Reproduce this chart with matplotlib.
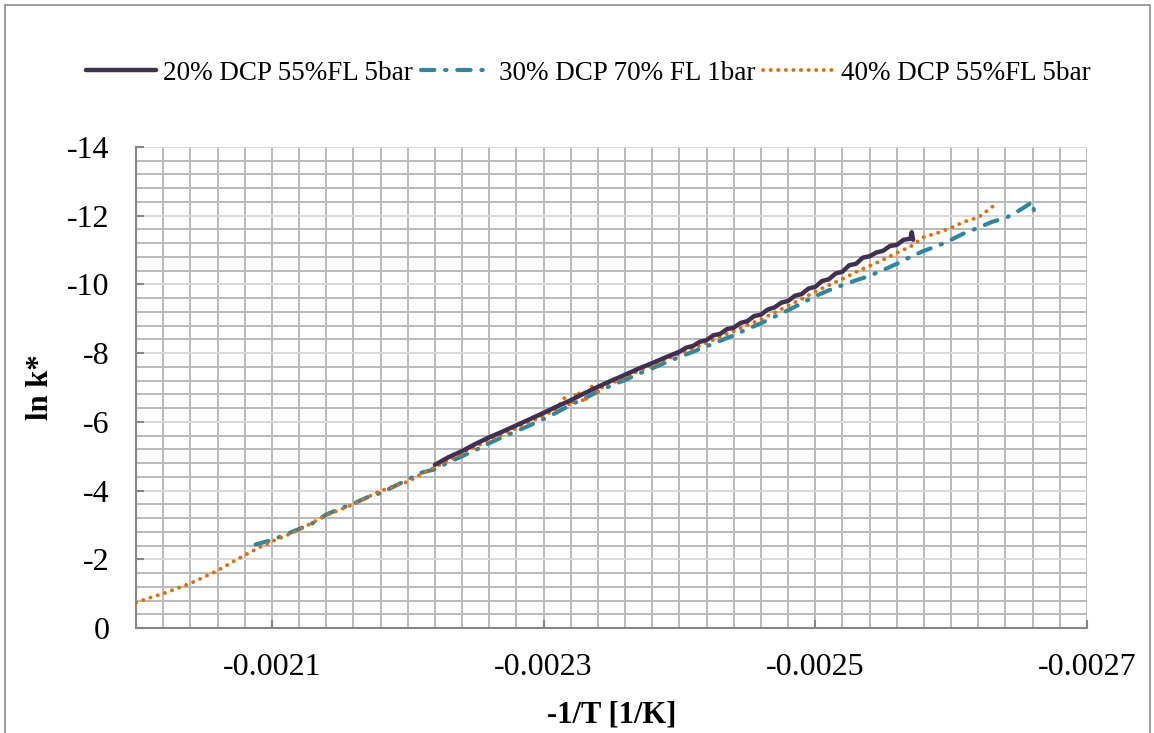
import matplotlib
matplotlib.use("Agg")
import matplotlib.pyplot as plt
from matplotlib.ticker import FixedLocator, FixedFormatter
from matplotlib.patches import Rectangle
import numpy as np

plt.rcParams['font.family'] = ['Liberation Serif', 'DejaVu Serif']
plt.rcParams['axes.unicode_minus'] = False

# ---------------- data ----------------
labels = ["20% DCP 55%FL 5bar", "30% DCP 70% FL 1bar", "40% DCP 55%FL 5bar"]

x_20 = [-0.002220, -0.002230, -0.002240, -0.002250, -0.002260, -0.002270, -0.002280,
        -0.002290, -0.002300, -0.002310, -0.002320, -0.002330, -0.002340, -0.002350,
        -0.002360, -0.002370, -0.002380, -0.002390, -0.002400, -0.002405, -0.002410,
        -0.002415, -0.002420, -0.002425, -0.002430, -0.002435, -0.002440, -0.002445,
        -0.002450, -0.002455, -0.002460, -0.002465, -0.002470, -0.002475, -0.002480,
        -0.002485, -0.002490, -0.002495, -0.002500, -0.002505, -0.002510, -0.002515,
        -0.002520, -0.002525, -0.002530, -0.002535, -0.002540, -0.002545, -0.002550,
        -0.002555, -0.002560, -0.002565, -0.002570, -0.002571, -0.002572]
y_20 = [-4.75, -4.97, -5.15, -5.36, -5.55, -5.72, -5.90,
        -6.08, -6.26, -6.45, -6.63, -6.83, -7.02, -7.20,
        -7.37, -7.55, -7.71, -7.88, -8.04, -8.16, -8.21,
        -8.33, -8.38, -8.52, -8.56, -8.70, -8.74, -8.88,
        -8.93, -9.08, -9.12, -9.27, -9.33, -9.47, -9.52,
        -9.67, -9.72, -9.88, -9.93, -10.10, -10.15, -10.32,
        -10.37, -10.56, -10.60, -10.78, -10.82, -10.93, -10.98,
        -11.12, -11.15, -11.30, -11.33, -11.52, -11.30]

x_30 = [-0.002088, -0.002100, -0.002110, -0.002120, -0.002130, -0.002140, -0.002150,
        -0.002160, -0.002170, -0.002180, -0.002190, -0.002200, -0.002210, -0.002220,
        -0.002230, -0.002240, -0.002250, -0.002260, -0.002270, -0.002280, -0.002290,
        -0.002300, -0.002310, -0.002320, -0.002330, -0.002340, -0.002350, -0.002360,
        -0.002370, -0.002380, -0.002390, -0.002400, -0.002410, -0.002420, -0.002430,
        -0.002440, -0.002450, -0.002460, -0.002470, -0.002480, -0.002490, -0.002500,
        -0.002510, -0.002520, -0.002530, -0.002540, -0.002550, -0.002560, -0.002570,
        -0.002580, -0.002590, -0.002600, -0.002610, -0.002620, -0.002630, -0.002640,
        -0.002650, -0.002660, -0.002661]
y_30 = [-2.43, -2.56, -2.72, -2.88, -3.05, -3.30, -3.47,
        -3.62, -3.80, -3.93, -4.12, -4.32, -4.52, -4.62,
        -4.82, -5.00, -5.18, -5.38, -5.56, -5.73, -5.90,
        -6.08, -6.28, -6.50, -6.68, -6.88, -7.06, -7.22,
        -7.40, -7.56, -7.73, -7.89, -8.04, -8.20, -8.36,
        -8.52, -8.70, -8.87, -9.06, -9.25, -9.45, -9.66,
        -9.83, -9.98, -10.12, -10.25, -10.42, -10.60, -10.80,
        -10.98, -11.12, -11.30, -11.50, -11.65, -11.82, -11.93,
        -12.15, -12.40, -12.12]

x_40 = [-0.002000, -0.002010, -0.002020, -0.002030, -0.002040, -0.002050, -0.002060,
        -0.002070, -0.002080, -0.002090, -0.002100, -0.002110, -0.002120, -0.002130,
        -0.002140, -0.002150, -0.002160, -0.002170, -0.002180, -0.002190, -0.002200,
        -0.002210, -0.002220, -0.002230, -0.002240, -0.002250, -0.002260, -0.002270,
        -0.002280, -0.002290, -0.002300, -0.002310, -0.002315, -0.002320, -0.002325,
        -0.002330, -0.002335, -0.002340, -0.002345, -0.002350, -0.002360, -0.002370,
        -0.002380, -0.002390, -0.002400, -0.002410, -0.002420, -0.002430, -0.002440,
        -0.002450, -0.002460, -0.002470, -0.002480, -0.002490, -0.002500, -0.002510,
        -0.002520, -0.002530, -0.002540, -0.002550, -0.002560, -0.002570, -0.002580,
        -0.002590, -0.002600, -0.002610, -0.002620, -0.002630, -0.002633]
y_40 = [-0.74, -0.88, -1.00, -1.15, -1.30, -1.48, -1.67,
        -1.90, -2.12, -2.33, -2.52, -2.68, -2.86, -3.07,
        -3.28, -3.44, -3.60, -3.80, -3.99, -4.13, -4.26,
        -4.48, -4.68, -4.88, -5.07, -5.28, -5.47, -5.64,
        -5.82, -6.00, -6.18, -6.38, -6.70, -6.45, -6.90,
        -6.55, -7.05, -6.85, -7.10, -7.12, -7.30, -7.48,
        -7.64, -7.82, -7.98, -8.14, -8.30, -8.48, -8.64,
        -8.82, -8.98, -9.18, -9.38, -9.58, -9.79, -9.98,
        -10.16, -10.36, -10.54, -10.72, -10.92, -11.10, -11.38,
        -11.50, -11.65, -11.83, -11.95, -12.25, -12.36]

x_ticks = [-0.0021, -0.0023, -0.0025, -0.0027]
x_tick_labels = ["-0.0021", "-0.0023", "-0.0025", "-0.0027"]
y_ticks = [0, -2, -4, -6, -8, -10, -12, -14]
y_tick_labels = ["0", "-2", "-4", "-6", "-8", "-10", "-12", "-14"]

# ---------------- figure ----------------
W, H = 1154, 733
fig = plt.figure(figsize=(W / 100, H / 100), dpi=100)
ax = fig.add_axes([136 / W, 1 - 628 / H, (1087 - 136) / W, (628 - 147) / H])

fig.patches.append(Rectangle((5 / W, -0.05), (1150 - 5) / W, 1.05 - 5 / H,
                             transform=fig.transFigure, fill=False,
                             edgecolor='#8c8c8c', lw=1.2, zorder=0))

c_purple = '#403152'
c_teal = '#31859C'
c_orange = '#E46C0A'

l1, = ax.plot(x_20, y_20, color=c_purple, lw=3.2, solid_capstyle='round',
              solid_joinstyle='round', zorder=4)
l2, = ax.plot(x_30, y_30, color=c_teal, lw=3.0, dash_capstyle='round',
              linestyle=(0, (3.2, 2.6, 0.3, 2.6)), zorder=3)
l3, = ax.plot(x_40, y_40, color=c_orange, lw=2.8, dash_capstyle='round',
              linestyle=(0, (0.05, 1.9)), zorder=3)

ax.set_xlim(-0.0020, -0.0027)
ax.set_ylim(0, -14)

ax.xaxis.set_major_locator(FixedLocator(x_ticks))
ax.xaxis.set_major_formatter(FixedFormatter(x_tick_labels))
ax.xaxis.set_minor_locator(FixedLocator(list(np.arange(-0.0020, -0.00271, -0.00002))))
ax.yaxis.set_major_locator(FixedLocator(y_ticks))
ax.yaxis.set_major_formatter(FixedFormatter(y_tick_labels))
ax.yaxis.set_minor_locator(FixedLocator(list(np.arange(0, -14.01, -0.4))))

ax.grid(which='minor', axis='both', color='#bababa', lw=1.4, zorder=0)
ax.grid(which='major', axis='y', color='#d9d9d9', lw=1.4, zorder=0)
ax.grid(which='major', axis='x', color='#bababa', lw=1.4, zorder=0)
ax.set_axisbelow(True)

for s in ['top', 'right']:
    ax.spines[s].set_visible(False)
for s in ['left', 'bottom']:
    ax.spines[s].set_color('#868686')
    ax.spines[s].set_linewidth(1.5)

ax.tick_params(which='major', direction='in', length=6, width=1.5, color='#868686',
               labelsize=23)
ax.tick_params(which='minor', length=0)
ax.tick_params(axis='y', pad=19)
ax.tick_params(axis='x', pad=18)

ax.set_ylabel('ln k*', fontsize=22, fontweight='bold', labelpad=9)
ax.set_xlabel('-1/T [1/K]', fontsize=22, fontweight='bold', labelpad=13)

fig.legend([l1, l2, l3], labels, loc='center', bbox_to_anchor=(588 / W, 1 - 73 / H),
           ncol=3, frameon=False, fontsize=19.5, handlelength=2.6,
           handletextpad=0.26, columnspacing=0.3)

fig.savefig('out.png', dpi=100)
